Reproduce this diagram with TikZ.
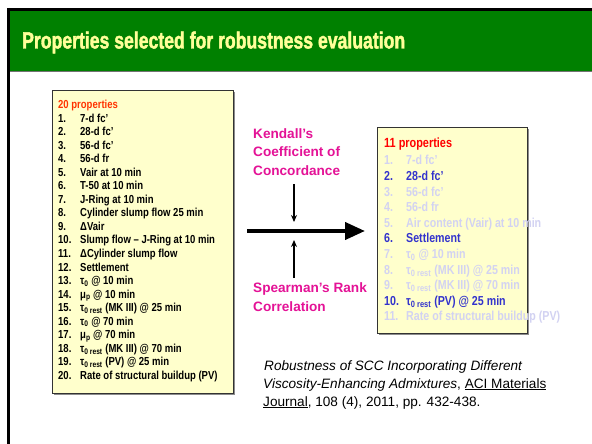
\documentclass[tikz,border=0pt]{standalone}
\usepackage{graphicx}
\usepackage{fontspec}
\setmainfont{Liberation Sans}
\newfontface\nb[FakeStretch=0.82]{Liberation Sans Bold}
\newfontface\titlef[FakeBold=2]{Liberation Sans Bold}
\usetikzlibrary{arrows.meta,shadows}
\definecolor{slidegreen}{RGB}{0,128,0}
\definecolor{titleyellow}{RGB}{255,255,153}
\definecolor{boxfill}{RGB}{255,255,204}
\definecolor{magentatext}{RGB}{228,18,150}
\definecolor{orangered}{RGB}{255,51,0}
\definecolor{hiblue}{RGB}{51,51,204}
\definecolor{faded}{RGB}{210,210,242}
\tikzset{
  listbox/.style={draw=black!80, line width=1.2pt, fill=boxfill, inner sep=0,
    drop shadow={shadow xshift=1.8pt, shadow yshift=-1.8pt, opacity=1, fill=black!45}},
  ltext/.style={anchor=base west, inner sep=0, font=\nb\fontsize{11.6}{13}\selectfont},
  rtext/.style={anchor=base west, inner sep=0, font=\nb\fontsize{13}{15}\selectfont},
  mtext/.style={anchor=base west, inner sep=0, text=magentatext, font=\bfseries\fontsize{13.6}{16}\selectfont},
  ctext/.style={anchor=base west, inner sep=0, font=\fontsize{13.6}{16}\selectfont},
  bigarrow/.style={line width=4pt, -{Triangle[length=20pt,width=17pt]}},
  smallarrow/.style={line width=1.5pt, -{Stealth[length=7pt,width=6pt]}},
}
\begin{document}
\begin{tikzpicture}[x=1pt,y=-1pt]
\useasboundingbox (0,0) rectangle (592,444);
% slide frame and title band
\fill[white] (0,0) rectangle (592,444);
\fill[slidegreen] (9,10) rectangle (592,71.5);
\draw[black!55, line width=1pt] (9,71.5) -- (592,71.5);
\draw[black, line width=2.6pt] (7.2,9.3) -- (592,9.3);
\draw[black, line width=2.8pt] (8.4,8) -- (8.4,444);
\node[anchor=base west, inner sep=0, text=titleyellow] (title) at (22,48.5)
  {\resizebox{383pt}{17pt}{\titlef Properties selected for robustness evaluation}};

% left box
\node[listbox, anchor=north west, minimum width=181pt, minimum height=303pt] (L) at (52,90) {};
\node[ltext, text=orangered] (Lhead) at (58,109) {20 properties};
\foreach \t [count=\i] in {
  {7-d fc’}, {28-d fc’}, {56-d fc’}, {56-d fr}, {Vair at 10 min},
  {T-50 at 10 min}, {J-Ring at 10 min}, {Cylinder slump flow 25 min},
  {ΔVair}, {Slump flow – J-Ring at 10 min}, {ΔCylinder slump flow},
  {Settlement}, {τ\textsubscript{0} @ 10 min}, {μ\textsubscript{p} @ 10 min},
  {τ\textsubscript{0 rest} (MK III) @ 25 min}, {τ\textsubscript{0} @ 70 min},
  {μ\textsubscript{p} @ 70 min}, {τ\textsubscript{0 rest} (MK III) @ 70 min},
  {τ\textsubscript{0 rest} (PV) @ 25 min}, {Rate of structural buildup (PV)}}
{
  \node[ltext] (ln\i) at (58,{122.2+(\i-1)*13.53}) {\i.};
  \node[ltext] (lt\i) at (80,{122.2+(\i-1)*13.53}) {\t};
}

% right box
\node[listbox, anchor=north west, minimum width=150pt, minimum height=206pt] (R) at (377,127) {};
\node[rtext, text=red, font=\nb\fontsize{13.3}{15}\selectfont] (Rhead) at (384,147.8) {11 properties};
\foreach \t/\c [count=\i] in {
  {7-d fc’}/faded, {28-d fc’}/hiblue, {56-d fc’}/faded, {56-d fr}/faded,
  {Air content (Vair) at 10 min}/faded, {Settlement}/hiblue,
  {τ\textsubscript{0} @ 10 min}/faded,
  {τ\textsubscript{0 rest} (MK III) @ 25 min}/faded,
  {τ\textsubscript{0 rest} (MK III) @ 70 min}/faded,
  {τ\textsubscript{0 rest} (PV) @ 25 min}/hiblue,
  {Rate of structural buildup (PV)}/faded}
{
  \node[rtext, text=\c] (rn\i) at (384,{164.8+(\i-1)*15.6}) {\i.};
  \node[rtext, text=\c] (rt\i) at (406,{164.8+(\i-1)*15.6}) {\t};
}

% arrows
\coordinate (hstart) at (247,231);
\coordinate (hend) at (365,231);
\draw[bigarrow] (hstart) -- (hend);
\coordinate (dstart) at (294,184);
\coordinate (dend) at (294,222);
\draw[smallarrow] (dstart) -- (dend);
\coordinate (ustart) at (294,278);
\coordinate (uend) at (294,240);
\draw[smallarrow] (ustart) -- (uend);

% method labels
\node[mtext] (k1) at (253,138) {Kendall’s};
\node[mtext] (k2) at (253,156.5) {Coefficient of};
\node[mtext] (k3) at (253,175) {Concordance};
\node[mtext] (s1) at (253,292) {Spearman’s Rank};
\node[mtext] (s2) at (253,311.5) {Correlation};

% citation
\node[ctext] (c1) at (264,370) {\itshape Robustness of SCC Incorporating Different};
\node[ctext] (c2) at (263,388) {{\itshape Viscosity-Enhancing Admixtures}, \underline{ACI Materials}};
\node[ctext] (c3) at (263,406) {\underline{Journal}, 108 (4), 2011, pp. 432-438.};
\end{tikzpicture}
\end{document}
